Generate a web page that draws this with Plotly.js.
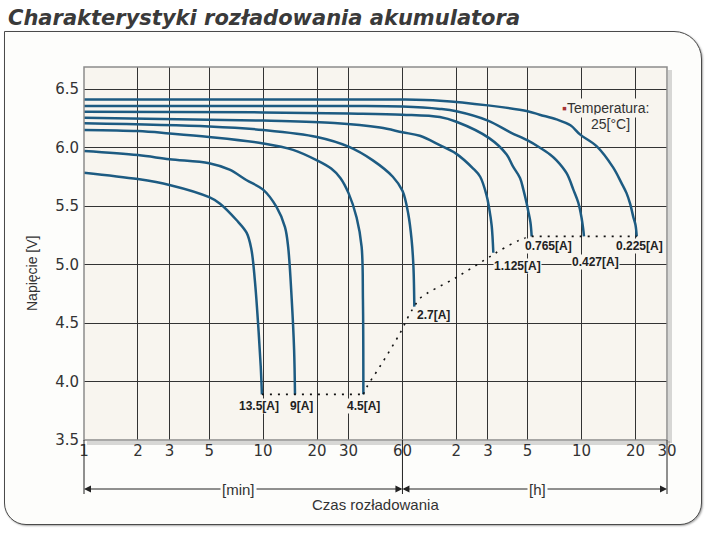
<!DOCTYPE html>
<html>
<head>
<meta charset="utf-8">
<script src="https://cdn.plot.ly/plotly-3.0.1.min.js"></script>
<style>
  body { margin: 0; background: #ffffff; }
  #wrap { position: relative; width: 709px; height: 541px; }
  #frame {
    position: absolute; left: 4px; top: 31px; width: 698px; height: 494px;
    box-sizing: border-box; border: 1.5px solid #4a4a4a;
    border-radius: 0 28px 22px 22px; background: #fdfdfb;
    box-shadow: 1px 1px 2px rgba(0,0,0,0.35);
  }
  #chart { position: absolute; left: 0; top: 0; width: 709px; height: 541px; }
</style>
</head>
<body>
<div id="wrap"><div id="frame"></div><div id="chart"></div></div>
<script>
// discharge time in minutes, voltage in V
var t135 = [1, 2, 3, 5, 5.75, 7.1, 8.1, 8.6, 9.0, 9.4, 9.7, 9.85];
var v135 = [5.785, 5.73, 5.68, 5.575, 5.52, 5.38, 5.27, 5.13, 4.86, 4.47, 4.13, 3.89];

var t9 = [1, 2, 3, 5, 6.5, 8.1, 10, 11.9, 13.25, 13.8, 14.45, 14.9, 15.07];
var v9 = [5.97, 5.935, 5.90, 5.865, 5.81, 5.72, 5.64, 5.49, 5.32, 5.15, 4.70, 4.27, 3.89];

var t45 = [1, 2, 3, 5, 10, 14.7, 20, 24, 27, 30, 33.3, 35.5, 36.1, 36.3];
var v45 = [6.15, 6.14, 6.12, 6.09, 6.035, 5.98, 5.89, 5.82, 5.74, 5.61, 5.40, 5.15, 4.70, 3.89];

var t27 = [1, 5, 10, 20, 30, 41, 53, 60, 64.7, 67.5, 69.1, 69.9];
var v27 = [6.207, 6.18, 6.15, 6.09, 6.007, 5.89, 5.75, 5.63, 5.43, 5.21, 4.98, 4.64];

var t1125 = [1, 10, 25, 45, 60, 75, 97, 119, 149, 163, 177, 183, 189, 193];
var v1125 = [6.255, 6.23, 6.21, 6.17, 6.13, 6.10, 6.02, 5.95, 5.82, 5.75, 5.59, 5.48, 5.33, 5.10];

var t0765 = [1, 10, 30, 60, 97, 120, 183, 229, 248, 272, 284, 296, 302, 311, 316];
var v0765 = [6.306, 6.30, 6.29, 6.28, 6.26, 6.22, 6.08, 5.94, 5.84, 5.74, 5.64, 5.525, 5.46, 5.36, 5.24];

var t0427 = [1, 30, 60, 97, 120, 180, 240, 300, 350, 400, 435, 495, 540, 575, 600, 612, 619];
var v0427 = [6.355, 6.355, 6.35, 6.33, 6.31, 6.23, 6.13, 6.06, 6.00, 5.94, 5.89, 5.78, 5.64, 5.53, 5.40, 5.31, 5.24];

var t0225 = [1, 30, 60, 97, 180, 300, 350, 435, 520, 590, 730, 900, 1000, 1070, 1120, 1170, 1200, 1220];
var v0225 = [6.41, 6.41, 6.41, 6.40, 6.36, 6.31, 6.28, 6.24, 6.19, 6.11, 6.01, 5.83, 5.70, 5.61, 5.52, 5.40, 5.34, 5.24];

var currents = ['13.5[A]', '9[A]', '4.5[A]', '2.7[A]', '1.125[A]', '0.765[A]', '0.427[A]', '0.225[A]'];

// dotted end-of-discharge line
var endLowT = [9.85, 15.07, 36.3];
var endLowV = [3.89, 3.89, 3.89];
var endMidT = [36.3, 38, 45, 58, 66, 69.9, 75, 120, 186, 210, 272, 316];
var endMidV = [3.89, 3.955, 4.13, 4.41, 4.58, 4.64, 4.71, 4.89, 5.07, 5.12, 5.21, 5.24];
var endTopT = [316, 619, 1220];
var endTopV = [5.24, 5.24, 5.24];

var tickMin = [1, 2, 3, 5, 10, 20, 30, 60, 120, 180, 300, 600, 1200, 1800];
var tickText = ['1', '2', '3', '5', '10', '20', '30', '60', '2', '3', '5', '10', '20', '30'];
var voltTicks = [3.5, 4.0, 4.5, 5.0, 5.5, 6.0, 6.5];
var voltText = ['3.5', '4.0', '4.5', '5.0', '5.5', '6.0', '6.5'];

var curveT = [t135, t9, t45, t27, t1125, t0765, t0427, t0225];
var curveV = [v135, v9, v45, v27, v1125, v0765, v0427, v0225];

// label placement relative to the curve end, in pixels
var labelPos = [
  {dx: -3, dy: -12, anchor: 'center'},
  {dx: 7, dy: -12, anchor: 'center'},
  {dx: 0, dy: -12, anchor: 'center'},
  {dx: 2, dy: -8, anchor: 'left'},
  {dx: 0, dy: -13, anchor: 'left'},
  {dx: -8, dy: -10, anchor: 'left'},
  {dx: -13, dy: -26, anchor: 'left'},
  {dx: -22, dy: -10, anchor: 'left'}
];

var plotBg = '#f8f5ef';
var frameBg = '#fdfdfb';
var xMax = Math.log10(1800);

function xp(t) {
  return Math.log10(t) / xMax;
}
// pixel position on the page -> paper coordinates
function px(x) { return (x - 84) / 583; }
function py(y) { return 1 - (y - 67) / 373; }

var data = [];
for (var i = 0; i < curveT.length; i++) {
  data.push({
    x: curveT[i],
    y: curveV[i],
    type: 'scatter',
    mode: 'lines',
    name: currents[i],
    line: { color: '#1d5b82', width: 2.5, shape: 'spline', smoothing: 1 },
    hoverinfo: 'skip'
  });
}

function dotted(x, y, shape) {
  return {
    x: x,
    y: y,
    type: 'scatter',
    mode: 'lines',
    line: { color: '#111111', width: 1.6, dash: '2px,6px', shape: shape },
    hoverinfo: 'skip'
  };
}
data.push(dotted(endLowT, endLowV, 'linear'));
data.push(dotted(endMidT, endMidV, 'spline'));
data.push(dotted(endTopT, endTopV, 'linear'));

var yArrow = py(489);
var yDrop = py(494);

var shapes = [
  { type: 'line', xref: 'paper', yref: 'paper', x0: 1 + 3 / 583, x1: 1 + 3 / 583, y0: -3 / 373, y1: 1 - 3 / 373,
    line: { color: 'rgba(0,0,0,0.15)', width: 4 } },
  { type: 'line', xref: 'paper', yref: 'paper', x0: 3 / 583, x1: 1 + 3 / 583, y0: -3 / 373, y1: -3 / 373,
    line: { color: 'rgba(0,0,0,0.15)', width: 4 } },
  { type: 'rect', xref: 'paper', yref: 'paper', x0: 0, x1: 1, y0: 0, y1: 1,
    line: { color: '#8c8c8c', width: 1.5 } }
];
[1, 60, 1800].forEach(function(t) {
  shapes.push({ type: 'line', xref: 'paper', yref: 'paper', x0: xp(t), x1: xp(t), y0: 0, y1: yDrop,
    line: { color: '#222222', width: 1 } });
});

function arrow(t, ax) {
  return { xref: 'paper', yref: 'paper', x: xp(t), y: yArrow, ax: ax, ay: 0, text: '',
    showarrow: true, arrowhead: 2, arrowsize: 1.4, arrowwidth: 1, arrowcolor: '#222222', standoff: 0 };
}

function note(x, y, text, size, bg) {
  return { xref: 'paper', yref: 'paper', x: px(x), y: py(y), xanchor: 'center', yanchor: 'middle',
    text: text, showarrow: false, bgcolor: bg || 'rgba(0,0,0,0)', borderpad: 1,
    font: { family: 'Liberation Sans, Arial', size: size, color: '#333' } };
}

var yTitle = note(32, 274, 'Napięcie [V]', 14);
yTitle.textangle = -90;

var annotations = [
  arrow(1, 160), arrow(60, -160), arrow(60, 135), arrow(1800, -135),
  note(238.6, 489, '[min]', 15, frameBg),
  note(537.5, 489, '[h]', 15, frameBg),
  note(375, 505, 'Czas rozładowania', 15),
  yTitle,
  note(605, 108, '<span style="color:#a83232">▪</span>Temperatura:', 14, plotBg),
  note(610, 124, '25[°C]', 14, plotBg)
];

for (var j = 0; j < currents.length; j++) {
  var n = curveT[j].length;
  annotations.push({
    x: Math.log10(curveT[j][n - 1]),
    y: curveV[j][n - 1],
    xshift: labelPos[j].dx,
    yshift: labelPos[j].dy,
    xanchor: labelPos[j].anchor,
    yanchor: 'middle',
    text: currents[j],
    showarrow: false,
    bgcolor: plotBg,
    borderpad: 0,
    font: { family: 'Liberation Sans, Arial', size: 12, color: '#222', weight: 'bold' }
  });
}

var layout = {
  width: 709,
  height: 541,
  margin: { l: 84, r: 42, t: 67, b: 101 },
  paper_bgcolor: 'rgba(0,0,0,0)',
  plot_bgcolor: plotBg,
  showlegend: false,
  title: {
    text: 'Charakterystyki rozładowania akumulatora',
    xref: 'container', yref: 'container',
    x: 8 / 709, xanchor: 'left',
    y: 1 - 18 / 541, yanchor: 'middle',
    font: { family: 'DejaVu Sans', size: 21, color: '#3a3a3a', weight: 'bold', style: 'italic' }
  },
  xaxis: {
    type: 'log',
    range: [0, xMax],
    tickvals: tickMin,
    ticktext: tickText,
    showgrid: true,
    gridcolor: '#333333',
    gridwidth: 1,
    zeroline: false,
    showline: false,
    ticks: '',
    tickfont: { family: 'DejaVu Sans', size: 15, color: '#333' }
  },
  yaxis: {
    range: [3.5, 6.688],
    tickvals: voltTicks,
    ticktext: voltText,
    showgrid: true,
    gridcolor: '#333333',
    gridwidth: 1,
    zeroline: false,
    showline: false,
    ticks: '',
    ticklabelstandoff: 4,
    tickfont: { family: 'DejaVu Sans', size: 15, color: '#333' }
  },
  shapes: shapes,
  annotations: annotations
};

Plotly.newPlot('chart', data, layout, { staticPlot: true, displayModeBar: false });
</script>
</body>
</html>
